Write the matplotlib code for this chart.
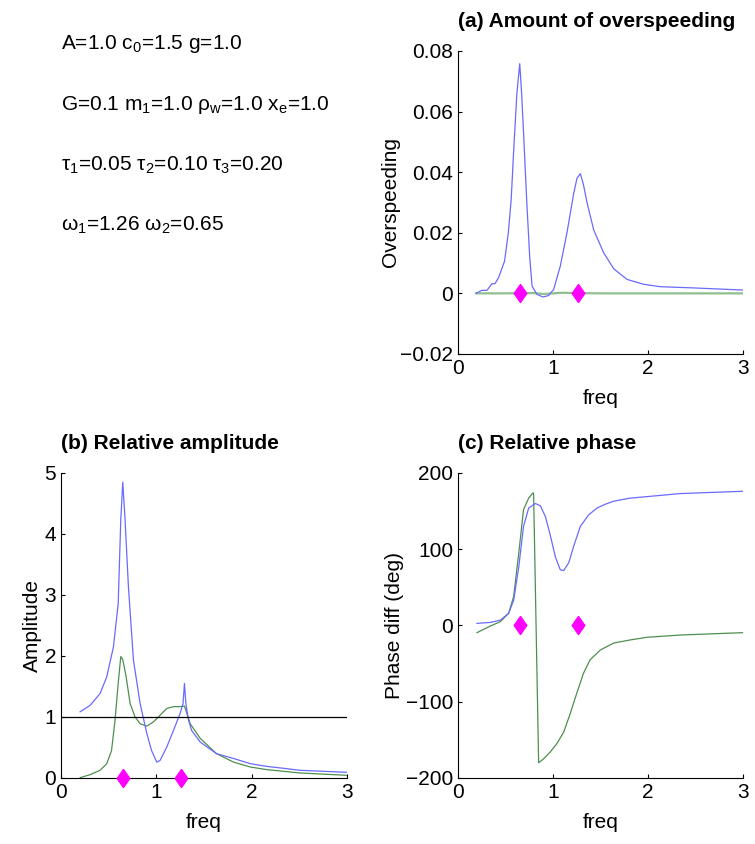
import matplotlib
matplotlib.use("Agg")
import matplotlib.pyplot as plt

plt.rcParams['font.family'] = ['Liberation Sans', 'DejaVu Sans']
plt.rcParams['mathtext.fontset'] = 'custom'
plt.rcParams['mathtext.rm'] = 'Liberation Sans'
plt.rcParams['mathtext.it'] = 'Liberation Sans'
plt.rcParams['mathtext.default'] = 'rm'

# forcing frequencies (markers)
omega = [0.65, 1.26]

# (a) overspeeding
fa_blue = [0.19, 0.25, 0.305, 0.358, 0.39, 0.43, 0.49, 0.53, 0.56, 0.586, 0.62, 0.65,
           0.67, 0.69, 0.726, 0.755, 0.78, 0.83, 0.895, 0.954, 1.007, 1.077, 1.147,
           1.218, 1.253, 1.288, 1.32, 1.358, 1.428, 1.533, 1.64, 1.78, 1.954, 2.13,
           2.48, 3.0]
over_blue = [0.0, 0.001, 0.001, 0.0032, 0.0032, 0.0054, 0.0106, 0.020, 0.031, 0.047,
             0.066, 0.0758, 0.066, 0.053, 0.029, 0.012, 0.0024, -0.0003, -0.0012,
             -0.0007, 0.0013, 0.009, 0.020, 0.033, 0.038, 0.0395, 0.036, 0.030, 0.021,
             0.0134, 0.0081, 0.0046, 0.003, 0.0022, 0.0018, 0.0011]
fa_green = [0.19, 0.5, 0.8, 0.9, 1.0, 1.1, 1.2, 1.5, 2.0, 3.0]
over_green = [0.0, 0.0, 0.0001, -0.0002, 0.0, 0.0002, 0.0001, 0.0, 0.0, 0.0]

# (b) relative amplitude
fb_blue = [0.2, 0.305, 0.41, 0.48, 0.55, 0.60, 0.627, 0.648, 0.672, 0.707, 0.76, 0.83,
           0.90, 0.95, 1.005, 1.04, 1.11, 1.18, 1.25, 1.28, 1.295, 1.31, 1.337, 1.37,
           1.46, 1.63, 1.81, 1.985, 2.16, 2.33, 2.51, 3.0]
amp_blue = [1.085, 1.19, 1.385, 1.66, 2.15, 2.86, 4.23, 4.85, 4.23, 3.14, 1.93, 1.22,
            0.73, 0.45, 0.26, 0.29, 0.51, 0.78, 1.06, 1.22, 1.55, 1.22, 0.95, 0.78,
            0.59, 0.40, 0.32, 0.235, 0.19, 0.16, 0.126, 0.093]
fb_green = [0.2, 0.305, 0.41, 0.48, 0.53, 0.567, 0.60, 0.627, 0.648, 0.683, 0.725,
            0.777, 0.83, 0.90, 0.97, 1.04, 1.11, 1.18, 1.25, 1.295, 1.32, 1.355, 1.46,
            1.63, 1.81, 1.985, 2.16, 2.51, 3.0]
amp_green = [0.005, 0.055, 0.126, 0.235, 0.45, 0.95, 1.55, 1.99, 1.94, 1.66, 1.22,
             1.0, 0.89, 0.85, 0.92, 1.03, 1.14, 1.17, 1.17, 1.18, 1.06, 0.89, 0.65,
             0.40, 0.26, 0.18, 0.137, 0.082, 0.044]

# (c) relative phase
fc_blue = [0.2, 0.34, 0.446, 0.533, 0.586, 0.64, 0.69, 0.744, 0.814, 0.867, 0.92,
           0.97, 1.025, 1.077, 1.112, 1.165, 1.218, 1.288, 1.375, 1.463, 1.55, 1.64,
           1.81, 1.99, 2.34, 3.0]
ph_blue = [2.8, 4, 7, 16, 33, 77, 130, 154, 160, 157, 143, 119, 90, 73, 72, 82, 104,
           130, 145, 154, 159, 163, 167, 169, 173, 176]
fc_green = [0.2, 0.34, 0.446, 0.533, 0.586, 0.64, 0.69, 0.744, 0.79, 0.796, 0.849,
            0.90, 0.97, 1.04, 1.112, 1.18, 1.25, 1.32, 1.39, 1.5, 1.64, 1.81, 1.99,
            2.34, 3.0]
ph_green = [-9.4, -0.7, 5, 16, 38, 95, 152, 167, 174, 173, -180, -175, -166, -155,
            -140, -116, -89, -63, -45, -32, -23, -19, -15.5, -12.5, -9.4]

BLUE = '#6a6aff'
GREEN = '#4e8f4e'
MAG = '#ff00ff'
DIAMOND = [(0, 1), (0.7, 0), (0, -1), (-0.7, 0), (0, 1)]
FS = 15

fig = plt.figure(figsize=(7.55, 8.44), dpi=100)


def style(ax):
    ax.spines['top'].set_visible(False)
    ax.spines['right'].set_visible(False)
    ax.tick_params(direction='in', length=3, labelsize=FS, width=0.8)
    ax.set_xlim(0, 3)
    ax.set_xticks([0, 1, 2, 3])
    ax.set_xlabel('freq', fontsize=FS, labelpad=8)


def marks(ax):
    ax.plot(omega, [0, 0], linestyle='none', marker=DIAMOND, color=MAG, ms=13,
            mec=MAG, clip_on=False, zorder=5)


ax_a = fig.add_axes([0.6066, 0.5806, 0.3775, 0.359])
ax_a.plot(fa_green, over_green, color='#8fbf8f', lw=1.6)
ax_a.plot(fa_blue, over_blue, color=BLUE, lw=0.9)
marks(ax_a)
style(ax_a)
ax_a.set_ylim(-0.02, 0.08)
ax_a.set_yticks([-0.02, 0, 0.02, 0.04, 0.06, 0.08])
ax_a.set_yticklabels(['\u22120.02', '0', '0.02', '0.04', '0.06', '0.08'])
ax_a.set_ylabel('Overspeeding', fontsize=FS, labelpad=0)
ax_a.set_title('(a) Amount of overspeeding', loc='left', fontsize=FS,
               fontweight='bold', pad=17)

ax_b = fig.add_axes([0.0808, 0.0782, 0.3788, 0.3614])
ax_b.plot(fb_green, amp_green, color=GREEN, lw=0.9)
ax_b.plot(fb_blue, amp_blue, color=BLUE, lw=0.9)
ax_b.axhline(1, color='black', lw=0.9)
marks(ax_b)
style(ax_b)
ax_b.set_ylim(0, 5)
ax_b.set_yticks([0, 1, 2, 3, 4, 5])
ax_b.set_ylabel('Amplitude', fontsize=FS, labelpad=2)
ax_b.set_title('(b) Relative amplitude', loc='left', fontsize=FS,
               fontweight='bold', pad=17)

ax_c = fig.add_axes([0.6066, 0.0782, 0.3775, 0.3614])
ax_c.plot(fc_green, ph_green, color=GREEN, lw=0.9)
ax_c.plot(fc_blue, ph_blue, color=BLUE, lw=0.9)
marks(ax_c)
style(ax_c)
ax_c.set_ylim(-200, 200)
ax_c.set_yticks([-200, -100, 0, 100, 200])
ax_c.set_yticklabels(['\u2212200', '\u2212100', '0', '100', '200'])
ax_c.set_ylabel('Phase diff (deg)', fontsize=FS, labelpad=1)
ax_c.set_title('(c) Relative phase', loc='left', fontsize=FS,
               fontweight='bold', pad=17)

params = ['A=1.0 c$_0$=1.5 g=1.0',
          'G=0.1 m$_1$=1.0 \u03c1$_w$=1.0 x$_e$=1.0',
          '\u03c4$_1$=0.05 \u03c4$_2$=0.10 \u03c4$_3$=0.20',
          '\u03c9$_1$=1.26 \u03c9$_2$=0.65']
for i, s in enumerate(params):
    fig.text(61 / 755, 1 - (44 + 60.5 * i) / 844, s, fontsize=FS, va='center', ha='left')

fig.savefig('out.png', dpi=100)
